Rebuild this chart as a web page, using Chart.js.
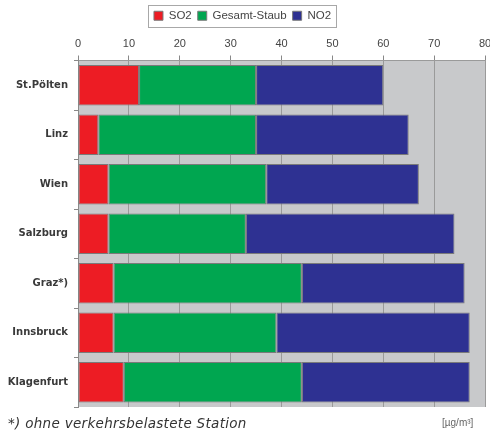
<!DOCTYPE html>
<html>
<head>
<meta charset="utf-8">
<script src="https://cdn.jsdelivr.net/npm/chart.js@4"></script>
<style>
  html, body { margin: 0; padding: 0; background: #fff; }
  #wrap { position: relative; width: 490px; height: 437px; }
  #note { position: absolute; left: 8px; top: 415px; font: italic 13.5px "DejaVu Sans", sans-serif; color: #333; letter-spacing: 0.3px; }
  #unit { position: absolute; left: 442px; top: 417px; font: 10px "Liberation Sans", Arial, sans-serif; color: #666; }
</style>
</head>
<body>
<div id="wrap">
  <canvas id="c" width="490" height="437"></canvas>
  <div id="note">*) ohne verkehrsbelastete Station</div>
  <div id="unit">[µg/m³]</div>
</div>
<script>
// stations, top to bottom
var stations = ["St.Pölten", "Linz", "Wien", "Salzburg", "Graz*)", "Innsbruck", "Klagenfurt"];
var so2 = [12, 4, 6, 6, 7, 7, 9];
var staub = [23, 31, 31, 27, 37, 32, 35];
var no2 = [25, 30, 30, 41, 32, 38, 33];
var xTicks = [0, 10, 20, 30, 40, 50, 60, 70, 80];

var plotBg = {
    id: "plotBg",
    beforeDraw: function(chart) {
        var a = chart.chartArea, ctx = chart.ctx;
        ctx.save();
        ctx.fillStyle = "#c8c9cb";
        ctx.fillRect(a.left, a.top, a.right - a.left, a.bottom - a.top);
        ctx.restore();
    }
};

// thin frame round the legend items
var legendBox = {
    id: "legendBox",
    afterDraw: function(chart) {
        var boxes = chart.legend.legendHitBoxes;
        if (!boxes || !boxes.length) return;
        var l = boxes[0].left, r = boxes[boxes.length - 1].left + boxes[boxes.length - 1].width;
        var t = boxes[0].top, b = boxes[0].top + boxes[0].height;
        var ctx = chart.ctx;
        ctx.save();
        ctx.strokeStyle = "#a8a8a8";
        ctx.lineWidth = 1;
        ctx.strokeRect(Math.round(l - 6) + 0.5, Math.round(t - 5) + 0.5, Math.round(r - l + 11), Math.round(b - t + 10));
        ctx.restore();
    }
};

new Chart(document.getElementById("c"), {
    type: "bar",
    data: {
        labels: stations,
        datasets: [
            { label: "SO2", data: so2, backgroundColor: "#ed1c24" },
            { label: "Gesamt-Staub", data: staub, backgroundColor: "#00a650" },
            { label: "NO2", data: no2, backgroundColor: "#2e3192" }
        ]
    },
    options: {
        indexAxis: "y",
        responsive: false,
        animation: false,
        layout: { padding: { left: 0, right: 5, top: 4, bottom: 30 } },
        datasets: {
            bar: { borderColor: "#7a7a7a", borderWidth: 1, borderSkipped: false, barPercentage: 0.82, categoryPercentage: 1 }
        },
        scales: {
            x: {
                position: "top",
                stacked: true,
                min: 0, max: 80,
                afterBuildTicks: function(s) { s.ticks = xTicks.map(function(v) { return { value: v }; }); },
                ticks: { color: "#444", font: { family: "Liberation Sans", size: 11 }, padding: 5, maxRotation: 0 },
                grid: { color: "#9a9a9a", tickLength: 5, tickColor: "#888" },
                border: { color: "#9a9a9a" },
                afterFit: function(s) { s.height = 29; s.paddingLeft = 0; s.paddingRight = 0; }
            },
            y: {
                stacked: true,
                ticks: { color: "#3a3a3a", font: { family: "DejaVu Sans", size: 10, weight: "bold" }, padding: 6 },
                grid: { offset: true, drawOnChartArea: false, tickLength: 4, tickColor: "#888" },
                border: { color: "#8a8a8a" },
                afterFit: function(s) { s.width = 78; }
            }
        },
        plugins: {
            legend: {
                position: "top",
                labels: { boxWidth: 9, boxHeight: 9, padding: 6, color: "#444", font: { family: "Liberation Sans", size: 11.5 } }
            },
            tooltip: { enabled: false }
        }
    },
    plugins: [plotBg, legendBox]
});
</script>
</body>
</html>
